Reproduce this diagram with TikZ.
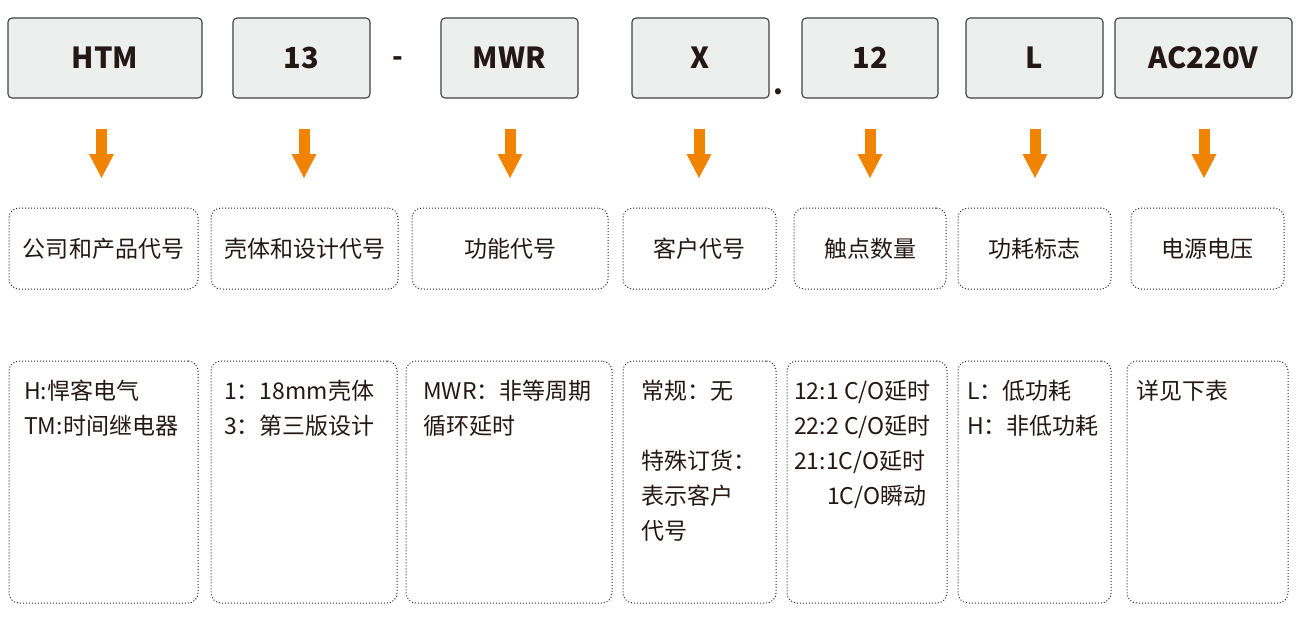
\documentclass[tikz,border=0pt]{standalone}
\usepackage{fontspec}
\setmainfont{Noto Sans CJK SC}
\usetikzlibrary{arrows.meta}
\definecolor{codefill}{HTML}{EDEFEE}
\definecolor{arroworange}{HTML}{F08300}
\definecolor{inkblack}{HTML}{231815}

\begin{document}
\begin{tikzpicture}[x=1pt,y=-1pt,
  codebox/.style={draw=black!75, fill=codefill, rounded corners=4pt, line width=1.1pt, inner sep=0pt, minimum height=80pt, text=inkblack, font=\fontsize{29}{30}\selectfont\bfseries},
  namebox/.style={draw=black!85, dash pattern=on 1pt off 2pt, rounded corners=10pt, line width=1pt, inner sep=0pt, minimum height=81pt, text=inkblack, font=\fontsize{23}{28}\selectfont},
  infobox/.style={draw=black!85, dash pattern=on 1pt off 2pt, rounded corners=10pt, line width=1pt, inner sep=0pt, minimum height=242pt},
  infotext/.style={anchor=north west, inner sep=0pt, align=left, text=inkblack, font=\fontsize{23}{35}\selectfont},
  downarrow/.style={arroworange, line width=11pt, -{Triangle[width=25pt,length=24pt,line width=0pt]}}]
\useasboundingbox (0,0) rectangle (1298,616);

% code row
\node[codebox, minimum width=194pt] (htm) at (105,58) {HTM};
\node[codebox, minimum width=137pt] (shell) at (301.5,58) {13};
\node[codebox, minimum width=137pt] (func) at (509.5,58) {MWR};
\node[codebox, minimum width=137pt] (cust) at (700.5,58) {X};
\node[codebox, minimum width=136pt] (cont) at (870,58) {12};
\node[codebox, minimum width=137pt] (power) at (1034.5,58) {L};
\node[codebox, minimum width=177pt] (volt) at (1203.5,58) {AC220V};
\node[anchor=base, inner sep=0pt, text=inkblack, font=\fontsize{28}{30}\selectfont\bfseries] (dash) at (398,66) {-};
\node[anchor=base, inner sep=0pt, text=inkblack, font=\fontsize{28}{30}\selectfont\bfseries] (dot) at (778,94) {.};

% arrows
\coordinate (a1) at (101.5,129); \coordinate (b1) at (101.5,178);
\coordinate (a2) at (304,129);   \coordinate (b2) at (304,178);
\coordinate (a3) at (510,129);   \coordinate (b3) at (510,178);
\coordinate (a4) at (699,129);   \coordinate (b4) at (699,178);
\coordinate (a5) at (870,129);   \coordinate (b5) at (870,178);
\coordinate (a6) at (1035,129);  \coordinate (b6) at (1035,178);
\coordinate (a7) at (1204,129);  \coordinate (b7) at (1204,178);
\draw[downarrow] (a1) -- (b1);
\draw[downarrow] (a2) -- (b2);
\draw[downarrow] (a3) -- (b3);
\draw[downarrow] (a4) -- (b4);
\draw[downarrow] (a5) -- (b5);
\draw[downarrow] (a6) -- (b6);
\draw[downarrow] (a7) -- (b7);

% name row
\node[namebox, minimum width=189pt] (htmname) at (103.5,248.5) {公司和产品代号};
\node[namebox, minimum width=187pt] (shellname) at (304.5,248.5) {壳体和设计代号};
\node[namebox, minimum width=196pt] (funcname) at (510,248.5) {功能代号};
\node[namebox, minimum width=153pt] (custname) at (699.5,248.5) {客户代号};
\node[namebox, minimum width=152pt] (contname) at (870,248.5) {触点数量};
\node[namebox, minimum width=153pt] (powername) at (1034.5,248.5) {功耗标志};
\node[namebox, minimum width=153pt] (voltname) at (1207.5,248.5) {电源电压};

% info row
\node[infobox, minimum width=189pt] (htminfo) at (103.5,482) {};
\node[infobox, minimum width=186pt] (shellinfo) at (304,482) {};
\node[infobox, minimum width=206pt] (funcinfo) at (509,482) {};
\node[infobox, minimum width=153pt] (custinfo) at (699.5,482) {};
\node[infobox, minimum width=160pt] (continfo) at (867,482) {};
\node[infobox, minimum width=153pt] (powerinfo) at (1034.5,482) {};
\node[infobox, minimum width=161pt] (voltinfo) at (1207.5,482) {};

\node[infotext] (htmtext) at (24,380) {H:悍客电气\\TM:时间继电器};
\node[infotext] (shelltext) at (224,380) {1：18mm壳体\\3：第三版设计};
\node[infotext] (functext) at (423,380) {MWR：非等周期\\循环延时};
\node[infotext] (custtext) at (641,380) {常规：无\\[35pt]特殊订货：\\表示客户\\代号};
\node[infotext] (conttext) at (794,380) {12:1 C/O延时\\22:2 C/O延时\\21:1C/O延时\\\hspace*{33pt}1C/O瞬动};
\node[infotext] (powertext) at (967,380) {L：低功耗\\H：非低功耗};
\node[infotext] (volttext) at (1136,380) {详见下表};
\end{tikzpicture}
\end{document}
